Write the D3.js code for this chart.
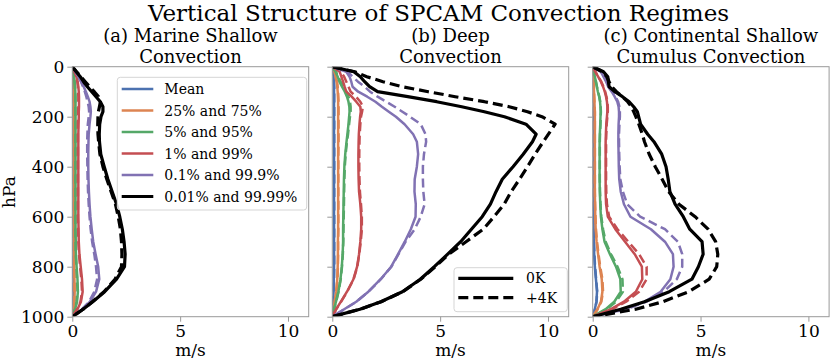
<!DOCTYPE html>
<html>
<head>
<meta charset="utf-8">
<script src="https://cdn.jsdelivr.net/npm/d3@7"></script>
<style>
  body { margin: 0; background: #fff; }
  svg { display: block; font-family: "DejaVu Serif", serif; }
</style>
</head>
<body>
<svg id="chart" width="830" height="362"></svg>
<script>
// ---------------- DATA ----------------
const chartTitle = "Vertical Structure of SPCAM Convection Regimes";
const panelTitles = [
  ["(a) Marine Shallow", "Convection"],
  ["(b) Deep", "Convection"],
  ["(c) Continental Shallow", "Cumulus Convection"]
];
const seriesNames = ["Mean", "25% and 75%", "5% and 95%", "1% and 99%", "0.1% and 99.9%", "0.01% and 99.99%"];
const scenarioNames = ["0K", "+4K"];
const xTicks = [0, 5, 10];
const yTicks = [0, 200, 400, 600, 800, 1000];
const xLabel = "m/s";
const yLabel = "hPa";

// pressure levels (hPa)
const levels = [0,20,40,60,80,100,120,140,160,180,200,230,270,300,350,400,450,500,550,600,650,700,750,800,850,900,940,970,1000];

// (a) Marine shallow convection  (m/s)
const aMean0  = [0,0.01,0.01,0.02,0.02,0.02,0.02,0.02,0.02,0.02,0.02,0.02,0.02,0.02,0.02,0.02,0.02,0.02,0.02,0.02,0.02,0.02,0.03,0.03,0.04,0.04,0.04,0.02,0];
const aMean4  = [0,0.01,0.01,0.02,0.02,0.02,0.02,0.02,0.02,0.02,0.02,0.02,0.02,0.02,0.02,0.02,0.02,0.02,0.02,0.02,0.02,0.02,0.03,0.03,0.04,0.04,0.04,0.02,0];
const aQ25_0  = [0,0.02,0.04,0.05,0.06,0.06,0.07,0.07,0.07,0.07,0.07,0.07,0.07,0.07,0.07,0.07,0.07,0.07,0.07,0.07,0.07,0.07,0.08,0.09,0.10,0.11,0.10,0.06,0];
const aQ25_4  = [0,0.02,0.04,0.05,0.06,0.06,0.06,0.06,0.06,0.06,0.06,0.06,0.06,0.06,0.06,0.06,0.06,0.06,0.06,0.06,0.07,0.07,0.08,0.09,0.10,0.10,0.09,0.05,0];
const aQ5_0   = [0,0.04,0.08,0.11,0.13,0.14,0.15,0.15,0.15,0.15,0.15,0.15,0.15,0.15,0.15,0.15,0.15,0.15,0.15,0.15,0.15,0.16,0.17,0.20,0.24,0.26,0.22,0.13,0];
const aQ5_4   = [0,0.04,0.07,0.10,0.12,0.13,0.14,0.14,0.14,0.14,0.14,0.14,0.14,0.14,0.14,0.14,0.14,0.14,0.14,0.14,0.14,0.15,0.16,0.19,0.22,0.24,0.20,0.12,0];
const aQ1_0   = [0,0.10,0.19,0.25,0.28,0.30,0.31,0.31,0.31,0.30,0.30,0.29,0.28,0.28,0.28,0.28,0.28,0.28,0.28,0.28,0.29,0.30,0.33,0.39,0.45,0.48,0.40,0.24,0];
const aQ1_4   = [0,0.10,0.18,0.23,0.26,0.27,0.28,0.28,0.28,0.27,0.27,0.26,0.26,0.26,0.26,0.26,0.26,0.26,0.26,0.26,0.27,0.28,0.31,0.36,0.42,0.45,0.38,0.22,0];
const aQ01_0  = [0,0.15,0.28,0.42,0.53,0.63,0.72,0.80,0.84,0.86,0.84,0.80,0.76,0.75,0.74,0.74,0.75,0.77,0.80,0.84,0.90,0.97,1.08,1.20,1.25,1.10,0.82,0.48,0];
const aQ01_4  = [0,0.15,0.27,0.40,0.50,0.58,0.65,0.71,0.76,0.78,0.76,0.72,0.70,0.69,0.69,0.70,0.71,0.73,0.76,0.80,0.85,0.92,1.02,1.10,1.15,1.02,0.78,0.45,0];
const aQ001_0 = [0,0.18,0.37,0.52,0.70,0.90,1.10,1.30,1.42,1.42,1.33,1.27,1.25,1.26,1.32,1.48,1.65,1.85,2.05,2.20,2.32,2.40,2.45,2.42,2.05,1.50,0.95,0.50,0];
const aQ001_4 = [0,0.20,0.40,0.60,0.80,1.02,1.22,1.30,1.26,1.21,1.19,1.18,1.19,1.22,1.28,1.42,1.60,1.80,2.00,2.13,2.23,2.28,2.30,2.28,1.98,1.47,0.93,0.50,0];

// (b) Deep convection
const bMean0  = [0,0.04,0.06,0.07,0.08,0.08,0.08,0.08,0.08,0.08,0.08,0.08,0.08,0.08,0.08,0.08,0.08,0.08,0.08,0.08,0.08,0.08,0.08,0.08,0.07,0.06,0.04,0.02,0];
const bMean4  = [0,0.04,0.07,0.08,0.09,0.09,0.09,0.09,0.09,0.09,0.09,0.09,0.09,0.09,0.09,0.09,0.09,0.09,0.09,0.09,0.09,0.09,0.09,0.09,0.08,0.06,0.04,0.02,0];
const bQ25_0  = [0,0.10,0.15,0.20,0.23,0.25,0.26,0.27,0.27,0.27,0.27,0.27,0.27,0.27,0.27,0.27,0.27,0.27,0.27,0.27,0.27,0.26,0.26,0.25,0.23,0.18,0.11,0.05,0];
const bQ25_4  = [0,0.11,0.17,0.22,0.25,0.27,0.28,0.29,0.29,0.29,0.29,0.29,0.29,0.29,0.28,0.28,0.28,0.28,0.28,0.28,0.28,0.27,0.27,0.26,0.24,0.19,0.11,0.05,0];
const bQ5_0   = [0,0.15,0.25,0.33,0.45,0.58,0.68,0.75,0.79,0.80,0.78,0.75,0.70,0.66,0.60,0.56,0.54,0.53,0.52,0.51,0.50,0.50,0.48,0.44,0.38,0.28,0.17,0.08,0];
const bQ5_4   = [0,0.17,0.28,0.38,0.52,0.65,0.75,0.82,0.85,0.85,0.82,0.78,0.73,0.68,0.62,0.58,0.56,0.55,0.54,0.53,0.52,0.51,0.49,0.45,0.39,0.29,0.18,0.08,0];
const bQ1_0   = [0,0.34,0.42,0.50,0.57,0.65,0.90,1.11,1.30,1.32,1.29,1.26,1.23,1.22,1.21,1.21,1.22,1.24,1.30,1.34,1.34,1.30,1.24,1.15,0.98,0.68,0.40,0.18,0];
const bQ1_4   = [0,0.40,0.55,0.65,0.75,0.85,1.10,1.30,1.42,1.38,1.33,1.30,1.27,1.26,1.25,1.25,1.26,1.28,1.33,1.37,1.37,1.32,1.25,1.16,0.99,0.69,0.41,0.18,0];
const bQ01_0  = [0,0.65,0.80,0.88,0.94,1.20,1.62,2.00,2.30,2.62,2.95,3.35,3.75,3.92,3.98,3.92,3.82,3.81,3.87,3.86,3.64,3.36,3.05,2.73,2.24,1.67,1.11,0.55,0];
const bQ01_4  = [0,0.70,0.95,1.19,1.50,1.75,2.10,2.50,2.89,3.25,3.60,4.10,4.32,4.35,4.25,4.20,4.20,4.22,4.28,4.10,3.82,3.40,3.07,2.74,2.25,1.68,1.12,0.56,0];
const bQ001_0 = [0,1.00,1.30,1.50,1.73,2.10,3.50,4.84,6.00,7.05,7.98,8.98,9.45,9.28,8.85,8.38,7.88,7.59,7.33,6.95,6.45,5.95,5.35,4.73,4.08,3.25,2.25,1.28,0];
const bQ001_4 = [0,1.04,1.60,2.35,3.25,4.45,5.70,7.05,8.20,9.05,9.72,10.33,10.02,9.78,9.40,9.05,8.68,8.29,7.97,7.50,7.00,6.20,5.40,4.77,4.10,3.27,2.27,1.30,0];

// (c) Continental shallow cumulus convection
const cMean0  = [0,0.01,0.02,0.02,0.03,0.03,0.03,0.03,0.03,0.03,0.03,0.03,0.03,0.03,0.03,0.03,0.03,0.03,0.03,0.04,0.04,0.05,0.07,0.10,0.15,0.20,0.17,0.10,0];
const cMean4  = [0,0.01,0.02,0.02,0.03,0.03,0.03,0.03,0.03,0.03,0.03,0.03,0.03,0.03,0.03,0.03,0.03,0.03,0.03,0.04,0.05,0.06,0.08,0.11,0.16,0.21,0.18,0.10,0];
const cQ25_0  = [0,0.02,0.03,0.04,0.05,0.06,0.07,0.08,0.09,0.10,0.10,0.10,0.10,0.10,0.10,0.10,0.10,0.10,0.11,0.12,0.14,0.18,0.25,0.32,0.42,0.45,0.38,0.22,0];
const cQ25_4  = [0,0.02,0.03,0.04,0.05,0.06,0.07,0.08,0.09,0.10,0.10,0.10,0.10,0.10,0.10,0.10,0.10,0.10,0.11,0.13,0.15,0.20,0.27,0.35,0.45,0.48,0.40,0.23,0];
const cQ5_0   = [0,0.05,0.10,0.15,0.19,0.24,0.30,0.34,0.36,0.37,0.36,0.35,0.33,0.32,0.32,0.32,0.32,0.33,0.35,0.38,0.45,0.55,0.80,1.08,1.28,1.30,1.00,0.60,0];
const cQ5_4   = [0,0.05,0.10,0.15,0.20,0.25,0.31,0.35,0.37,0.38,0.37,0.36,0.34,0.33,0.33,0.33,0.33,0.34,0.36,0.40,0.48,0.60,0.85,1.15,1.38,1.40,1.08,0.65,0];
const cQ1_0   = [0,0.12,0.25,0.38,0.48,0.56,0.62,0.66,0.68,0.68,0.66,0.63,0.61,0.60,0.60,0.60,0.60,0.60,0.62,0.70,1.05,1.50,1.95,2.28,2.30,2.00,1.45,0.85,0];
const cQ1_4   = [0,0.12,0.26,0.40,0.50,0.58,0.64,0.68,0.70,0.70,0.68,0.65,0.63,0.62,0.62,0.62,0.62,0.63,0.66,0.76,1.15,1.65,2.15,2.50,2.50,2.15,1.55,0.90,0];
const cQ01_0  = [0,0.37,0.50,0.62,0.72,0.88,1.02,1.14,1.20,1.22,1.22,1.20,1.19,1.19,1.20,1.21,1.23,1.30,1.45,1.75,2.70,3.35,3.72,3.75,3.60,3.15,2.40,1.50,0];
const cQ01_4  = [0,0.38,0.52,0.65,0.76,0.92,1.06,1.18,1.24,1.26,1.26,1.24,1.22,1.22,1.23,1.25,1.28,1.40,1.60,2.20,3.35,3.95,4.15,4.15,3.90,3.30,2.50,1.55,0];
const cQ001_0 = [0,0.50,0.70,0.73,0.76,1.03,1.38,1.69,1.90,2.07,2.13,2.22,2.55,2.84,3.20,3.40,3.50,3.58,3.82,4.20,4.50,5.07,5.12,4.90,4.60,3.55,2.40,1.30,0];
const cQ001_4 = [0,0.45,0.65,0.76,0.88,1.10,1.38,1.62,1.80,1.90,2.00,2.14,2.30,2.40,2.62,2.90,3.22,3.52,4.00,4.75,5.35,5.70,5.80,5.75,5.40,4.45,3.25,2.00,0];

// ---------------- STYLE ----------------
const seriesColors = ["#4C72B0", "#DD8452", "#55A868", "#C44E52", "#8172B3", "#000000"];
const seriesWidths = [2.5, 2.5, 2.5, 2.5, 2.5, 3.2];

const panelData = [
  [[aMean0,aMean4],[aQ25_0,aQ25_4],[aQ5_0,aQ5_4],[aQ1_0,aQ1_4],[aQ01_0,aQ01_4],[aQ001_0,aQ001_4]],
  [[bMean0,bMean4],[bQ25_0,bQ25_4],[bQ5_0,bQ5_4],[bQ1_0,bQ1_4],[bQ01_0,bQ01_4],[bQ001_0,bQ001_4]],
  [[cMean0,cMean4],[cQ25_0,cQ25_4],[cQ5_0,cQ5_4],[cQ1_0,cQ1_4],[cQ01_0,cQ01_4],[cQ001_0,cQ001_4]]
];

const svg = d3.select("#chart");
const panelLeft = [72.3, 332.3, 592.7];
const panelW = 236.4;
const plotTop = 66.7, plotBottom = 316.7;
const spineColor = "#999";

svg.append("text")
  .attr("x", 438.5).attr("y", 21)
  .attr("text-anchor", "middle")
  .attr("font-size", 23)
  .text(chartTitle);

panelLeft.forEach((x0, pi) => {
  const x = d3.scaleLinear().domain([0, 10.96]).range([x0, x0 + panelW]);
  const y = d3.scaleLinear().domain([0, 1000]).range([plotTop, plotBottom]);
  const g = svg.append("g");

  const clipId = "clip" + pi;
  svg.append("clipPath").attr("id", clipId)
    .append("rect").attr("x", x0).attr("y", plotTop).attr("width", panelW).attr("height", plotBottom - plotTop);

  const xAxis = d3.axisBottom(x).tickValues(xTicks).tickSize(5).tickPadding(3).tickFormat(d3.format("d"));
  const gx = g.append("g").attr("transform", `translate(0,${plotBottom})`).call(xAxis);
  gx.select(".domain").remove();
  gx.selectAll(".tick line").attr("stroke", spineColor);
  gx.selectAll(".tick text").attr("font-family", "DejaVu Serif").attr("font-size", 17).attr("fill", "#000");

  const yAxis = d3.axisLeft(y).tickValues(yTicks).tickSize(5).tickPadding(3)
    .tickFormat(pi === 0 ? d3.format("d") : () => "");
  const gy = g.append("g").attr("transform", `translate(${x0},0)`).call(yAxis);
  gy.select(".domain").remove();
  gy.selectAll(".tick line").attr("stroke", spineColor);
  gy.selectAll(".tick text").attr("font-family", "DejaVu Serif").attr("font-size", 17).attr("fill", "#000");

  const line = d3.line().x(d => x(d[0])).y(d => y(d[1]));
  const lg = g.append("g").attr("clip-path", `url(#${clipId})`);
  panelData[pi].forEach((pair, si) => {
    pair.forEach((vals, k) => {
      const pts = vals.map((v, i) => [v, levels[i]]);
      lg.append("path")
        .attr("d", line(pts))
        .attr("fill", "none")
        .attr("stroke", seriesColors[si])
        .attr("stroke-width", seriesWidths[si])
        .attr("stroke-linejoin", "round")
        .attr("stroke-dasharray", k === 1 ? (si === 5 ? "10,5" : "9,4.5") : null);
    });
  });

  g.append("rect").attr("x", x0).attr("y", plotTop).attr("width", panelW).attr("height", plotBottom - plotTop)
    .attr("fill", "none").attr("stroke", spineColor).attr("stroke-width", 1);

  const cx = x0 + panelW / 2;
  svg.append("text").attr("x", cx).attr("y", 42).attr("text-anchor", "middle").attr("font-size", 18)
    .text(panelTitles[pi][0]);
  svg.append("text").attr("x", cx).attr("y", 63).attr("text-anchor", "middle").attr("font-size", 18)
    .text(panelTitles[pi][1]);
  svg.append("text").attr("x", cx).attr("y", 356).attr("text-anchor", "middle").attr("font-size", 17)
    .text(xLabel);
});

svg.append("text")
  .attr("transform", "translate(15,192) rotate(-90)")
  .attr("text-anchor", "middle")
  .attr("font-size", 17)
  .text(yLabel);

const legA = svg.append("g");
legA.append("rect").attr("x", 117.3).attr("y", 77.3).attr("width", 189.4).attr("height", 132.7)
  .attr("rx", 3).attr("fill", "#fff").attr("fill-opacity", 0.8).attr("stroke", "#d5d5d5");
seriesNames.forEach((nm, i) => {
  const yy = 89 + i * 21.5;
  legA.append("line").attr("x1", 121.7).attr("x2", 153.3).attr("y1", yy).attr("y2", yy)
    .attr("stroke", seriesColors[i]).attr("stroke-width", seriesWidths[i]);
  legA.append("text").attr("x", 164.3).attr("y", yy).attr("dy", "0.36em").attr("font-size", 14).text(nm);
});

const legB = svg.append("g");
legB.append("rect").attr("x", 454).attr("y", 267.7).attr("width", 113.3).attr("height", 44)
  .attr("rx", 3).attr("fill", "#fff").attr("fill-opacity", 0.8).attr("stroke", "#d5d5d5");
scenarioNames.forEach((nm, i) => {
  const yy = 278.3 + i * 19.4;
  legB.append("line").attr("x1", 458.3).attr("x2", 513.3).attr("y1", yy).attr("y2", yy)
    .attr("stroke", "#000").attr("stroke-width", 3.2)
    .attr("stroke-dasharray", i === 1 ? "10,5" : null);
  legB.append("text").attr("x", 526).attr("y", yy).attr("dy", "0.36em").attr("font-size", 14).text(nm);
});
</script>
</body>
</html>
